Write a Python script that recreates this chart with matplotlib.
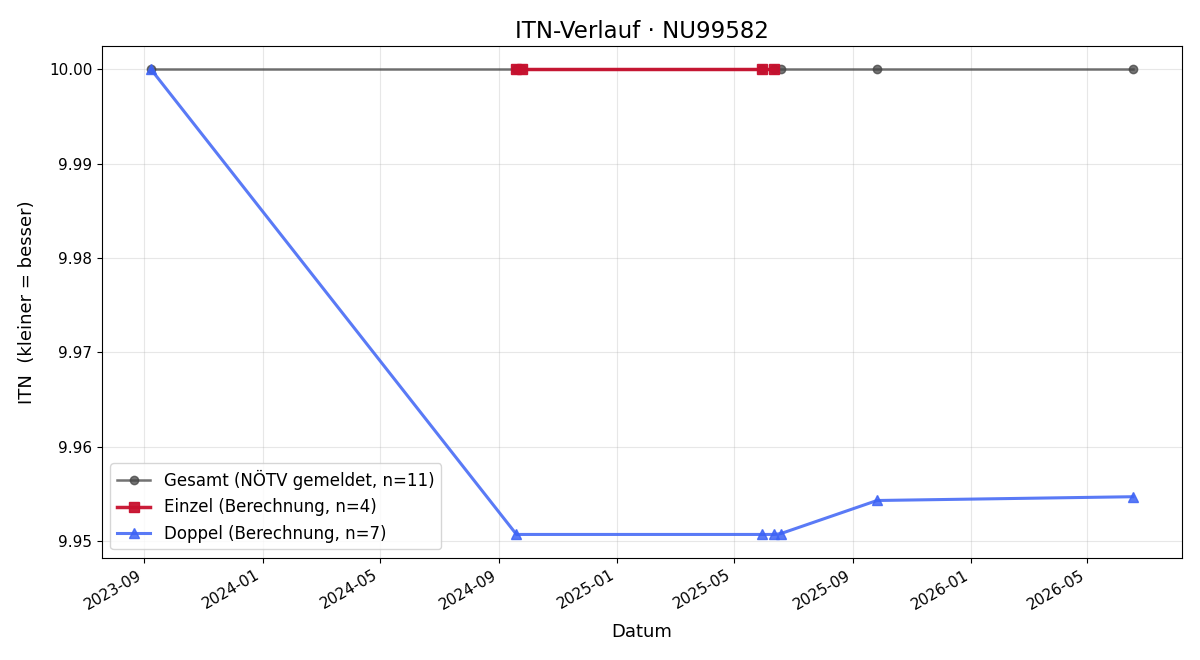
import matplotlib
matplotlib.use("Agg")
import matplotlib.pyplot as plt
import matplotlib.dates as mdates
from datetime import datetime

spieler = "NU99582"

gesamt_daten = ["2023-09-08", "2024-09-19", "2024-09-19", "2024-09-25", "2025-05-30",
                "2025-05-30", "2025-06-12", "2025-06-12", "2025-06-19", "2025-09-26", "2026-06-17"]
gesamt_itn = [10.0] * 11

einzel_daten = ["2024-09-19", "2024-09-25", "2025-05-30", "2025-06-12"]
einzel_itn = [10.0, 10.0, 10.0, 10.0]

doppel_daten = ["2023-09-08", "2024-09-19", "2025-05-30", "2025-06-12",
                "2025-06-19", "2025-09-26", "2026-06-17"]
doppel_itn = [10.0, 9.9507, 9.9507, 9.9507, 9.9508, 9.9543, 9.9547]


def to_dt(lst):
    return [datetime.strptime(d, "%Y-%m-%d") for d in lst]


fig, ax = plt.subplots(figsize=(12, 6.6), dpi=100)

ax.plot(to_dt(gesamt_daten), gesamt_itn, marker="o", color="#444444", alpha=0.75,
        linewidth=1.8, markersize=6, label=f"Gesamt (NÖTV gemeldet, n={len(gesamt_itn)})")
ax.plot(to_dt(einzel_daten), einzel_itn, marker="s", color="#c8102e", alpha=0.95,
        linewidth=2.5, markersize=7.5, label=f"Einzel (Berechnung, n={len(einzel_itn)})")
ax.plot(to_dt(doppel_daten), doppel_itn, marker="^", color="#3d63f5", alpha=0.85,
        linewidth=2.2, markersize=7.5, label=f"Doppel (Berechnung, n={len(doppel_itn)})")

ax.set_title(f"ITN-Verlauf · {spieler}", fontsize=16.5)
ax.set_xlabel("Datum", fontsize=13, labelpad=8)
ax.set_ylabel("ITN  (kleiner = besser)", fontsize=13, labelpad=9)
ax.xaxis.set_major_locator(mdates.MonthLocator(bymonth=[1, 5, 9]))
ax.xaxis.set_major_formatter(mdates.DateFormatter("%Y-%m"))
ax.tick_params(labelsize=11)
ax.grid(True, alpha=0.3)
ax.legend(loc="lower left", fontsize=12)
fig.autofmt_xdate()

plt.subplots_adjust(left=0.085, right=0.985, top=0.93, bottom=0.155)
plt.savefig("out.png", dpi=100)
plt.close()
